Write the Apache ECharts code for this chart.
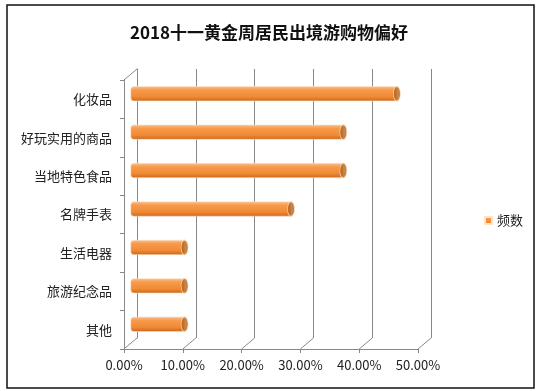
<!DOCTYPE html>
<html>
<head>
<meta charset="utf-8">
<script src="https://cdn.jsdelivr.net/npm/echarts@6/dist/echarts.min.js"></script>
<style>html,body{margin:0;padding:0;background:#fff}#c{width:538px;height:391px}</style>
</head>
<body>
<div id="c"></div>
<script>
const title = '2018十一黄金周居民出境游购物偏好';
const seriesName = '频数';
const categories = ['化妆品', '好玩实用的商品', '当地特色食品', '名牌手表', '生活电器', '旅游纪念品', '其他'];
const values = [45.3, 36.2, 36.2, 27.3, 9.2, 9.2, 9.2];
const tickValues = [0, 10, 20, 30, 40, 50];
const tickLabels = ['0.00%', '10.00%', '20.00%', '30.00%', '40.00%', '50.00%'];

const FONT = '"Noto Sans CJK SC", "Noto Sans", sans-serif';
const GRID_W = 294, GRID_H = 269;
const DEPTH_X = 13, DEPTH_Y = -11;

const chart = echarts.init(document.getElementById('c'));
const xBase = {
  type: 'value', min: 0, max: 50, interval: 10
};
chart.setOption({
  animation: false,
  textStyle: { fontFamily: FONT },
  title: {
    text: title, left: 'center', top: 19,
    textStyle: { fontSize: 17, fontWeight: 'bold', color: '#111', fontFamily: FONT }
  },
  legend: {
    data: [seriesName], orient: 'vertical', left: 479, top: 209,
    icon: 'rect', itemWidth: 7, itemHeight: 7, itemGap: 6,
    textStyle: { fontSize: 13, color: '#222', fontFamily: FONT }
  },
  graphic: [{
    type: 'rect', shape: { x: 7, y: 5, width: 527, height: 383 },
    style: { fill: 'none', stroke: '#111', lineWidth: 1.5 }, silent: true
  }],
  grid: [
    { left: 124, top: 80, width: GRID_W, height: GRID_H },
    { left: 124 + 6.5, top: 80 - 5.5, width: GRID_W, height: GRID_H },
    { left: 124 + DEPTH_X, top: 80 + DEPTH_Y, width: GRID_W, height: GRID_H }
  ],
  xAxis: [
    Object.assign({}, xBase, {
      gridIndex: 0,
      axisLine: { show: true, lineStyle: { color: '#888' } },
      axisTick: { show: true, length: 4, lineStyle: { color: '#888' } },
      splitLine: { show: false },
      axisLabel: {
        margin: 10, fontSize: 13, color: '#222', fontFamily: FONT,
        formatter: v => tickLabels[tickValues.indexOf(v)]
      }
    }),
    Object.assign({}, xBase, {
      gridIndex: 1, show: false, splitLine: { show: false }
    }),
    Object.assign({}, xBase, {
      gridIndex: 2,
      axisLine: { show: false }, axisTick: { show: false }, axisLabel: { show: false },
      splitLine: { show: true, lineStyle: { color: '#888', width: 1 } }
    })
  ],
  yAxis: [
    {
      gridIndex: 0, type: 'category', data: categories, inverse: true,
      axisLine: { show: true, lineStyle: { color: '#888' } },
      axisTick: { show: true, length: 4, lineStyle: { color: '#888' } },
      axisLabel: { margin: 12, fontSize: 13, color: '#222', fontFamily: FONT }
    },
    { gridIndex: 1, type: 'category', data: categories, inverse: true, show: false },
    {
      gridIndex: 2, type: 'category', data: categories, inverse: true,
      axisLine: { show: true, lineStyle: { color: '#888' } },
      axisTick: { show: false }, axisLabel: { show: false }, splitLine: { show: false }
    }
  ],
  series: [
    {
      type: 'custom', xAxisIndex: 0, yAxisIndex: 0, silent: true, z: 1,
      data: tickValues.map(v => [v, 0]),
      renderItem: function (params, api) {
        const cs = params.coordSys;
        const x = api.coord([api.value(0), 0])[0];
        const yb = cs.y + cs.height;
        const children = [{
          type: 'line',
          shape: { x1: x, y1: yb, x2: x + DEPTH_X, y2: yb + DEPTH_Y },
          style: { stroke: '#888', lineWidth: 1 }
        }];
        if (params.dataIndex === 0) {
          children.push({
            type: 'line',
            shape: { x1: x, y1: cs.y, x2: x + DEPTH_X, y2: cs.y + DEPTH_Y },
            style: { stroke: '#888', lineWidth: 1 }
          });
        }
        return { type: 'group', children: children };
      }
    },
    {
      name: seriesName, type: 'bar', xAxisIndex: 1, yAxisIndex: 1, z: 3,
      data: values, barWidth: 15,
      itemStyle: {
        color: new echarts.graphic.LinearGradient(0, 0, 0, 1, [
          { offset: 0, color: '#fbc290' },
          { offset: 0.25, color: '#f79a4a' },
          { offset: 0.7, color: '#f08a35' },
          { offset: 1, color: '#c7661c' }
        ]),
        borderColor: '#fde3c8', borderWidth: 0.6,
        borderRadius: [3, 0, 0, 3]
      }
    },
    {
      name: 'cap', type: 'scatter', xAxisIndex: 1, yAxisIndex: 1, z: 4,
      data: values.map((v, i) => [v, categories[i]]),
      symbol: 'circle', symbolSize: [7, 15],
      itemStyle: { color: '#b5651d', borderColor: '#fde3c8', borderWidth: 1 }
    }
  ],
  color: ['#f79646']
});
</script>
</body>
</html>
